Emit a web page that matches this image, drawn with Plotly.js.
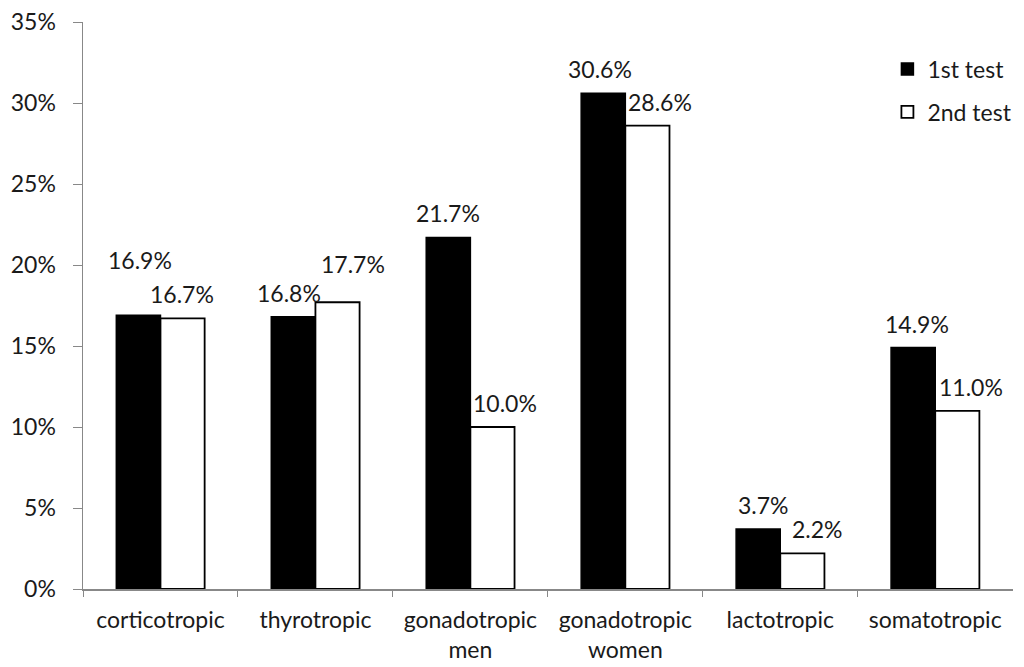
<!DOCTYPE html>
<html>
<head>
<meta charset="utf-8">
<script src="https://cdn.plot.ly/plotly-3.0.1.min.js"></script>
<style>html,body{margin:0;padding:0;background:#fff;}#chart{width:1024px;height:667px;}</style>
</head>
<body>
<div id="chart"></div>
<script>
const categories = ["corticotropic", "thyrotropic", "gonadotropic<br>men", "gonadotropic<br>women", "lactotropic", "somatotropic"];
const firstTest = [0.169, 0.168, 0.217, 0.306, 0.037, 0.149];
const secondTest = [0.167, 0.177, 0.100, 0.286, 0.022, 0.110];
const seriesNames = ["1st test", "2nd test"];
const yTicks = [0, 0.05, 0.10, 0.15, 0.20, 0.25, 0.30, 0.35];

// label placement tweaks (pixels) to follow the original layout
const firstLabelShift = [[2, 31], [-4, 0], [0, 0], [-3, 0], [5, 0], [4, 0]];
const secondLabelShift = [[0, 0], [16, 14], [13, 0], [13, 0], [15, 0], [14, 0]];

const FONT = "Lato, 'Open Sans', sans-serif";
const FS = 23;
const fontCol = "#1a1a1a";

const traces = [
  {type: "bar", name: seriesNames[0], x: categories, y: firstTest, legendgroup: "a",
   marker: {color: "#000", line: {color: "#000", width: 1.5}}},
  {type: "bar", name: seriesNames[1], x: categories, y: secondTest, legendgroup: "b",
   marker: {color: "#fff", line: {color: "#000", width: 1.8}}}
];

const annotations = [];
function addLabels(vals, dir, shifts) {
  vals.forEach((v, i) => {
    annotations.push({
      x: categories[i], y: v, xref: "x", yref: "y",
      text: (v * 100).toFixed(1) + "%", showarrow: false,
      xanchor: "center", yanchor: "bottom",
      xshift: dir * 22 + shifts[i][0], yshift: 8 + shifts[i][1],
      font: {family: FONT, size: FS, color: fontCol}
    });
  });
}
addLabels(firstTest, -1, firstLabelShift);
addLabels(secondTest, 1, secondLabelShift);

const layout = {
  width: 1024, height: 667,
  margin: {l: 83, r: 0, t: 22, b: 78},
  paper_bgcolor: "#fff", plot_bgcolor: "#fff",
  barmode: "group", bargap: 0.43, bargroupgap: 0,
  font: {family: FONT, size: FS, color: fontCol},
  showlegend: true,
  legend: {x: 0.993, y: 0.955, xanchor: "right", yanchor: "top",
           font: {family: FONT, size: FS, color: fontCol},
           traceorder: "grouped", tracegroupgap: 10,
           itemwidth: 30, bgcolor: "rgba(0,0,0,0)"},
  xaxis: {type: "category", domain: [0, 0.988], showline: true, linecolor: "#888", linewidth: 1.5,
          ticks: "outside", tickson: "boundaries", ticklen: 6, tickcolor: "#888",
          ticklabelstandoff: 10, automargin: false,
          showgrid: false, tickfont: {family: FONT, size: FS, color: fontCol}},
  yaxis: {range: [0, 0.35], tickvals: yTicks, tickformat: ".0%",
          showline: true, linecolor: "#888", linewidth: 1.5,
          ticks: "outside", ticklen: 9, tickcolor: "#888",
          ticklabelstandoff: 12, automargin: false,
          showgrid: false, zeroline: false,
          tickfont: {family: FONT, size: FS, color: fontCol}},
  annotations: annotations
};

Plotly.newPlot("chart", traces, layout, {displayModeBar: false, staticPlot: true});
</script>
</body>
</html>
